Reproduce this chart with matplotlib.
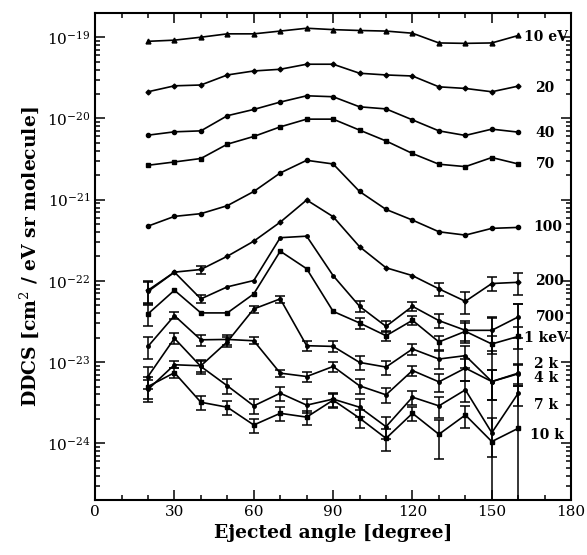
import matplotlib
matplotlib.use("Agg")
import matplotlib.pyplot as plt
import numpy as np
from matplotlib.ticker import MultipleLocator, LogLocator, NullFormatter

plt.rcParams['font.family'] = ['DejaVu Serif']
plt.rcParams['mathtext.fontset'] = 'dejavuserif'

angles = [20, 30, 40, 50, 60, 70, 80, 90, 100, 110, 120, 130, 140, 150, 160]

e10eV = [8.9e-20, 9.2e-20, 1.0e-19, 1.1e-19, 1.1e-19, 1.19e-19, 1.29e-19, 1.24e-19,
         1.21e-19, 1.19e-19, 1.12e-19, 8.5e-20, 8.4e-20, 8.5e-20, 1.05e-19]
e20eV = [2.13e-20, 2.52e-20, 2.58e-20, 3.43e-20, 3.84e-20, 4.03e-20, 4.65e-20, 4.65e-20,
         3.6e-20, 3.43e-20, 3.33e-20, 2.45e-20, 2.34e-20, 2.13e-20, 2.5e-20]
e40eV = [6.22e-21, 6.84e-21, 7.03e-21, 1.08e-20, 1.29e-20, 1.59e-20, 1.9e-20, 1.85e-20,
         1.39e-20, 1.31e-20, 9.6e-21, 7.03e-21, 6.17e-21, 7.38e-21, 6.78e-21]
e70eV = [2.65e-21, 2.91e-21, 3.21e-21, 4.82e-21, 6.0e-21, 7.87e-21, 9.8e-21, 9.8e-21,
         7.18e-21, 5.28e-21, 3.7e-21, 2.73e-21, 2.55e-21, 3.3e-21, 2.75e-21]
e100eV = [4.72e-22, 6.22e-22, 6.72e-22, 8.43e-22, 1.26e-21, 2.13e-21, 3.05e-21, 2.75e-21,
          1.26e-21, 7.58e-22, 5.6e-22, 4.02e-22, 3.66e-22, 4.43e-22, 4.55e-22]
e200eV = [7.66e-23, 1.28e-22, 1.38e-22, 2.01e-22, 3.08e-22, 5.28e-22, 9.9e-22, 6.17e-22,
          2.63e-22, 1.45e-22, 1.16e-22, 7.97e-23, 5.6e-23, 9.27e-23, 9.6e-23]
e700eV = [7.4e-23, 1.28e-22, 6.0e-23, 8.44e-23, 1.01e-22, 3.4e-22, 3.55e-22, 1.16e-22,
          4.86e-23, 2.75e-23, 4.86e-23, 3.24e-23, 2.46e-23, 2.46e-23, 3.6e-23]
e1keV = [3.92e-23, 7.66e-23, 4.03e-23, 4.03e-23, 6.91e-23, 2.32e-22, 1.41e-22, 4.21e-23,
         3.03e-23, 2.11e-23, 3.27e-23, 1.77e-23, 2.39e-23, 1.67e-23, 2.07e-23]
e2keV = [4.6e-24, 9.27e-24, 9.0e-24, 1.78e-23, 4.51e-23, 6.0e-23, 1.59e-23, 1.56e-23,
         9.9e-24, 8.68e-24, 1.45e-23, 1.09e-23, 1.2e-23, 5.76e-24, 7.17e-24]
e4keV = [1.56e-23, 3.73e-23, 1.88e-23, 1.9e-23, 1.83e-23, 7.31e-24, 6.64e-24, 8.83e-24,
         5.1e-24, 3.95e-24, 7.87e-24, 5.71e-24, 8.43e-24, 5.76e-24, 7.31e-24]
e7keV = [6.64e-24, 1.96e-23, 8.83e-24, 5.1e-24, 2.89e-24, 4.14e-24, 2.95e-24, 3.5e-24,
         2.78e-24, 1.6e-24, 3.7e-24, 2.89e-24, 4.55e-24, 1.35e-24, 4.14e-24]
e10keV = [5.0e-24, 7.4e-24, 3.2e-24, 2.78e-24, 1.68e-24, 2.34e-24, 2.1e-24, 3.4e-24,
          2.04e-24, 1.15e-24, 2.34e-24, 1.29e-24, 2.23e-24, 1.05e-24, 1.53e-24]

# relative (linear) errors, 0 = no bar
err200 = [0.3, 0, 0.12, 0, 0, 0, 0, 0, 0, 0, 0, 0.18, 0.3, 0.2, 0.3]
err700 = [0.3, 0, 0.12, 0, 0, 0, 0, 0, 0.15, 0.15, 0.12, 0.2, 0.3, 0.45, 0.45]
err1k = [0.3, 0, 0, 0, 0, 0, 0, 0, 0.15, 0.15, 0.12, 0.2, 0.25, 0.25, 0.3]
err2k = [0.3, 0.1, 0.15, 0.15, 0.1, 0.1, 0.15, 0.15, 0.2, 0.2, 0.15, 0.25, 0.3, 0.4, 0.3]
err4k = [0.3, 0.1, 0.15, 0.15, 0.1, 0.1, 0.15, 0.15, 0.2, 0.2, 0.15, 0.25, 0.3, 0.4, 0.3]
err7k = [0.3, 0.15, 0.2, 0.2, 0.2, 0.2, 0.2, 0.2, 0.25, 0.3, 0.2, 0.3, 0.3, 0.5, 0.3]
err10k = [0.3, 0.15, 0.2, 0.2, 0.2, 0.2, 0.2, 0.2, 0.25, 0.3, 0.2, 0.5, 0.3, 32, 33]

labels = ['10 eV', '20', '40', '70', '100', '200', '700', '1 keV', '2 k', '4 k', '7 k', '10 k']
label_y = [1.0e-19, 2.4e-20, 6.7e-21, 2.75e-21, 4.6e-22, 1.0e-22, 3.6e-23, 2.0e-23,
           9.5e-24, 6.4e-24, 2.95e-24, 1.25e-24]
label_x = [162.3, 166.5, 166.5, 166.5, 165.5, 166.5, 166.5, 162.3, 166, 166, 166, 164.5]

series = [e10eV, e20eV, e40eV, e70eV, e100eV, e200eV, e700eV, e1keV, e2keV, e4keV, e7keV, e10keV]
errors = [None, None, None, None, None, err200, err700, err1k, err2k, err4k, err7k, err10k]
markers = ['^', 'D', 'o', 's', 'o', 'D', 'o', 's', 'o', 'o', 'o', 's']
msizes = [3.5, 2.5, 3, 3.5, 3, 2.5, 2.5, 3, 2.5, 2.5, 2.5, 3]

fig = plt.figure(figsize=(5.87, 5.55), dpi=100)
ax = fig.add_axes([0.162, 0.099, 0.811, 0.878])
ax.set_yscale('log')

x = np.array(angles)
for vals, err, mk, ms in zip(series, errors, markers, msizes):
    vals = np.array(vals)
    ax.plot(x, vals, color='black', lw=1.2, marker=mk, ms=ms)
    if err is not None:
        err = np.array(err)
        keep = err > 0
        ax.errorbar(x[keep], vals[keep], yerr=err[keep] * vals[keep], fmt='none',
                    ecolor='black', elinewidth=1.1, capsize=3.5, capthick=1.1)

for lab, lx, ly in zip(labels, label_x, label_y):
    ax.text(lx, ly, lab, fontsize=10, fontweight='bold', va='center', ha='left')

ax.set_xlim(0, 180)
ax.set_ylim(2e-25, 2e-19)
ax.xaxis.set_major_locator(MultipleLocator(30))
ax.xaxis.set_minor_locator(MultipleLocator(10))
ax.set_yticks([1e-24, 1e-23, 1e-22, 1e-21, 1e-20, 1e-19])
ax.yaxis.set_minor_locator(LogLocator(base=10, subs=np.arange(2, 10), numticks=20))
ax.yaxis.set_minor_formatter(NullFormatter())

ax.tick_params(which='both', direction='in', top=True, right=True, labelsize=11, width=1.1)
ax.tick_params(which='major', length=7)
ax.tick_params(which='minor', length=3.5)
for s in ax.spines.values():
    s.set_linewidth(1.5)

ax.set_xlabel('Ejected angle [degree]', fontsize=13.5, fontweight='bold')
ax.set_ylabel('DDCS [cm$^2$ / eV sr molecule]', fontsize=13.5, fontweight='bold')

fig.savefig('out.png', dpi=100)
